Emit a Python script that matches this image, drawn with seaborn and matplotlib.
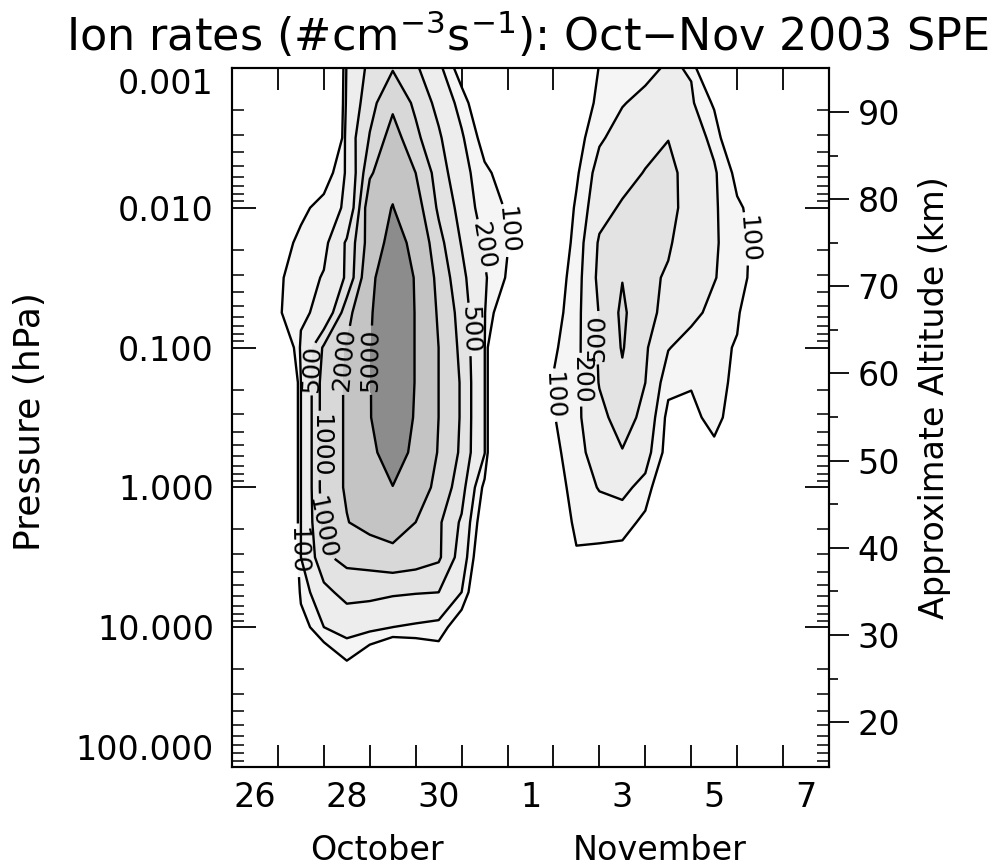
import numpy as np
import matplotlib
matplotlib.use("Agg")
import matplotlib.pyplot as plt
import seaborn as sns

sns.set_theme(style="white")
plt.rcParams["font.family"] = ["DejaVu Sans"]
plt.rcParams["mathtext.fontset"] = "dejavusans"
for k in ["text.color", "axes.labelcolor", "xtick.color", "ytick.color", "axes.edgecolor"]:
    plt.rcParams[k] = "black"

# ---------------- data ----------------
# time in days since 26 Oct 2003 00 UT (data columns every 12 h)
days = [0.5, 1.0, 1.5, 2.0, 2.5, 3.0, 3.5, 4.0, 4.5, 5.0, 5.5, 6.0, 6.5,
        7.0, 7.5, 8.0, 8.5, 9.0, 9.5, 10.0, 10.5, 11.0, 11.5, 12.0, 12.5]
# log10 of pressure (hPa)
log_pressure = [-3.0, -2.75, -2.5, -2.25, -2.0, -1.75, -1.5, -1.25, -1.0, -0.75, -0.5,
                -0.25, 0.0, 0.25, 0.5, 0.75, 1.0, 1.25, 1.5, 1.75, 2.0]
# log10 of ion rate (# cm^-3 s^-1), rows = log_pressure, columns = days
log_rate = [
    [0, 0, 0, 0, 2.35, 2.79, 2.98, 2.75, 2.4, 1.8, 1.0, 0, 0.5, 1.0, 1.5, 2.02, 2.1, 2.2, 2.35, 2.27, 1.0, 0.5, 0, 0, 0],
    [0, 0, 0, 0, 2.4, 2.9, 3.23, 2.94, 2.6, 2.17, 1.6, 0.5, 0.5, 1.2, 1.7, 2.1, 2.28, 2.4, 2.55, 2.35, 1.95, 0.8, 0, 0, 0],
    [0, 0, 0, 0, 2.5, 3.02, 3.45, 3.07, 2.75, 2.35, 1.85, 0.8, 0.8, 1.4, 1.85, 2.25, 2.45, 2.55, 2.69, 2.5, 2.2, 1.5, 0.5, 0, 0],
    [0, 0, 0.5, 1.77, 2.35, 3.25, 3.6, 3.3, 2.87, 2.45, 2.07, 1.84, 1.0, 1.5, 1.95, 2.45, 2.55, 2.72, 2.8, 2.55, 2.35, 1.9, 0.8, 0, 0],
    [0, 0.5, 1.9, 2.15, 2.35, 3.54, 3.71, 3.45, 2.95, 2.59, 2.1, 1.98, 1.1, 1.6, 2.05, 2.55, 2.75, 2.85, 2.85, 2.5, 2.35, 2.05, 1.86, 0.5, 0],
    [0.5, 1.8, 2.1, 2.2, 2.75, 3.45, 3.85, 3.6, 3.1, 2.68, 2.26, 2.02, 1.2, 1.7, 2.1, 2.75, 2.9, 2.85, 2.75, 2.45, 2.35, 2.1, 1.9, 0.5, 0],
    [0.8, 1.95, 2.15, 2.33, 2.75, 3.6, 4.0, 3.67, 3.21, 2.79, 2.34, 1.96, 1.2, 1.8, 2.15, 2.8, 2.99, 2.8, 2.65, 2.4, 2.32, 2.12, 1.85, 0.5, 0],
    [0.8, 1.95, 2.25, 2.38, 3.19, 3.65, 4.05, 3.68, 3.26, 2.89, 2.32, 1.52, 1.2, 1.85, 2.2, 2.72, 3.06, 2.75, 2.65, 2.4, 2.2, 2.05, 1.6, 0.5, 0],
    [0, 1.2, 2.35, 3.05, 3.32, 3.68, 4.05, 3.68, 3.3, 2.93, 2.32, 0, 1.2, 1.95, 2.2, 2.75, 3.02, 2.75, 2.32, 2.15, 2.1, 1.97, 1.2, 0.3, 0],
    [0, 0, 2.3, 3.15, 3.33, 3.68, 4.05, 3.68, 3.3, 2.97, 2.32, 0, 1.2, 2.02, 2.2, 2.72, 2.95, 2.7, 2.1, 2.03, 2.15, 1.9, 1.0, 0.3, 0],
    [0, 0, 2.3, 3.15, 3.33, 3.68, 4.0, 3.66, 3.3, 2.97, 2.32, 0, 1.2, 1.98, 2.22, 2.6, 2.85, 2.6, 1.9, 1.9, 2.12, 1.8, 0.8, 0.3, 0],
    [0, 0, 2.3, 3.15, 3.33, 3.6, 3.9, 3.6, 3.28, 2.95, 2.32, 0, 1.2, 1.9, 2.2, 2.45, 2.68, 2.45, 1.85, 1.7, 1.9, 1.4, 0.6, 0.2, 0],
    [0, 0, 2.3, 3.15, 3.33, 3.55, 3.69, 3.5, 3.2, 2.85, 1.9, 0, 1.0, 1.8, 2.15, 2.32, 2.38, 2.2, 1.5, 1.4, 1.5, 1.0, 0.4, 0.2, 0],
    [0, 0, 2.3, 3.1, 3.29, 3.4, 3.45, 3.3, 3.05, 2.65, 1.7, 0, 0.8, 1.6, 2.1, 2.15, 2.16, 1.9, 1.2, 1.0, 1.0, 0.6, 0.3, 0.1, 0],
    [0, 0, 2.3, 2.95, 3.08, 3.12, 3.2, 3.15, 3.05, 2.55, 1.5, 0, 0.5, 1.3, 1.95, 1.9, 1.85, 1.5, 0.9, 0.7, 0.6, 0.3, 0.1, 0, 0],
    [0, 0, 2.1, 2.6, 2.82, 2.8, 2.75, 2.72, 2.7, 2.3, 1.3, 0, 0.3, 0.8, 1.4, 1.4, 1.3, 1.0, 0.5, 0.4, 0.3, 0.1, 0, 0, 0],
    [0, 0, 1.8, 2.3, 2.45, 2.4, 2.3, 2.25, 2.2, 1.7, 1.0, 0, 0, 0.4, 0.8, 0.8, 0.7, 0.5, 0.2, 0.1, 0, 0, 0, 0, 0],
    [0, 0, 1.0, 1.6, 1.98, 1.6, 1.23, 1.45, 1.7, 1.0, 0.5, 0, 0, 0, 0.3, 0.3, 0.2, 0, 0, 0, 0, 0, 0, 0, 0],
    [0, 0, 0.5, 1.0, 1.3, 1.0, 0.8, 0.9, 1.0, 0.5, 0, 0, 0, 0, 0, 0, 0, 0, 0, 0, 0, 0, 0, 0, 0],
    [0, 0, 0, 0.5, 0.7, 0.5, 0.4, 0.4, 0.5, 0, 0, 0, 0, 0, 0, 0, 0, 0, 0, 0, 0, 0, 0, 0, 0],
    [0, 0, 0, 0, 0, 0, 0, 0, 0, 0, 0, 0, 0, 0, 0, 0, 0, 0, 0, 0, 0, 0, 0, 0, 0],
]
ion_levels = [100, 200, 500, 1000, 2000, 5000]
fill_colors = ["#f5f5f5", "#ededed", "#e3e3e3", "#d8d8d8", "#c4c4c4", "#8c8c8c"]

pressure_ticks = [0.001, 0.01, 0.1, 1.0, 10.0, 100.0]
pressure_labels = ["0.001", "0.010", "0.100", "1.000", "10.000", "100.000"]
day_label_pos = [0.5, 2.5, 4.5, 6.5, 8.5, 10.5, 12.5]
day_labels = ["26", "28", "30", "1", "3", "5", "7"]
alt_major = [20, 30, 40, 50, 60, 70, 80, 90]
alt_minor = [25, 35, 45, 55, 65, 75, 85]
alt_at_1hPa = 46.93      # km
km_per_decade = 16.04    # km per decade of pressure

# contour label anchors (day, log10 p)
label_spots = {
    100: [(6.06, -1.84), (1.42, 0.45), (7.04, -0.66), (11.07, -1.77)],
    200: [(5.47, -1.73), (7.36, -0.77)],
    500: [(5.19, -1.13), (1.6, -0.85), (8.02, -1.07)],
    1000: [(1.85, -0.3), (1.75, 0.3)],
    2000: [(2.46, -0.91)],
    5000: [(3.22, -0.91)],
}

# ---------------- figure ----------------
W, H = 995, 868
fig = plt.figure(figsize=(W / 100, H / 100), dpi=100)
L, R, T, B = 232, 829, 68, 767
ax = fig.add_axes([L / W, 1 - B / H, (R - L) / W, (B - T) / H])

Z = np.array(log_rate)
lv = np.log10(ion_levels)
ax.contourf(days, log_pressure, Z, levels=list(lv) + [9], colors=fill_colors)
ax.set_xlim(0, 13)
ax.set_ylim(2, -3)

for v in ion_levels:
    l = np.log10(v)
    cs = ax.contour(days, log_pressure, Z, levels=[l], colors="black", linewidths=1.7)
    ax.clabel(cs, manual=label_spots[v], fmt={l: str(v)}, fontsize=18, inline=True,
              inline_spacing=3, colors="black")

# y axis: log pressure
ax.set_yticks(np.log10(pressure_ticks))
ax.set_yticklabels(pressure_labels)
minor = [np.log10(k * 10.0 ** n) for n in range(-3, 2) for k in range(2, 10)]
ax.set_yticks(minor, minor=True)

# x axis: days
ax.set_xticks(range(0, 14))
ax.set_xticklabels([""] * 14)
ax.set_xticks(day_label_pos, minor=True)
ax.set_xticklabels(day_labels, minor=True)

ax2 = ax.twinx()
ax2.set_ylim(alt_at_1hPa - km_per_decade * 2, alt_at_1hPa + km_per_decade * 3)
ax2.set_yticks(alt_major)
ax2.set_yticklabels([str(a) for a in alt_major])
ax2.set_yticks(alt_minor, minor=True)
ax2.tick_params(axis="y", which="major", direction="out", length=14.5, width=1.3,
                labelsize=24, pad=6, right=True, left=False)
ax2.tick_params(axis="y", which="minor", direction="out", length=6.5, width=1.2,
                right=True, left=False)

ax.tick_params(axis="y", which="major", direction="in", length=17, width=1.3,
               left=True, right=True, labelleft=True, labelright=False, labelsize=24, pad=13)
ax.tick_params(axis="y", which="minor", direction="in", length=8.5, width=1.1,
               left=True, right=True)
ax.tick_params(axis="x", which="major", direction="in", length=16, width=1.3,
               top=True, bottom=True)
ax.tick_params(axis="x", which="minor", direction="in", length=0, labelsize=24, pad=10,
               bottom=True)

for a in (ax, ax2):
    for s in a.spines.values():
        s.set_color("black")
        s.set_linewidth(1.5)
        s.set_visible(True)
ax.grid(False)
ax2.grid(False)

ylabs = ax.get_yticklabels()
ylabs[0].set_va("top")
ylabs[-1].set_va("bottom")

fig.text(30 / W, 1 - 422 / H, "Pressure (hPa)", rotation=90, ha="center", va="center", fontsize=26)
fig.text(935 / W, 1 - 398 / H, "Approximate Altitude (km)", rotation=90, ha="center", va="center", fontsize=24)
fig.text(377 / W, 1 - 850 / H, "October", ha="center", va="center", fontsize=24)
fig.text(660 / W, 1 - 850 / H, "November", ha="center", va="center", fontsize=24)
fig.text(527 / W, 1 - 35 / H, r"Ion rates (#cm$^{-3}$s$^{-1}$): Oct$-$Nov 2003 SPE",
         ha="center", va="center", fontsize=32)

fig.savefig("out.png", dpi=100, facecolor="white")
